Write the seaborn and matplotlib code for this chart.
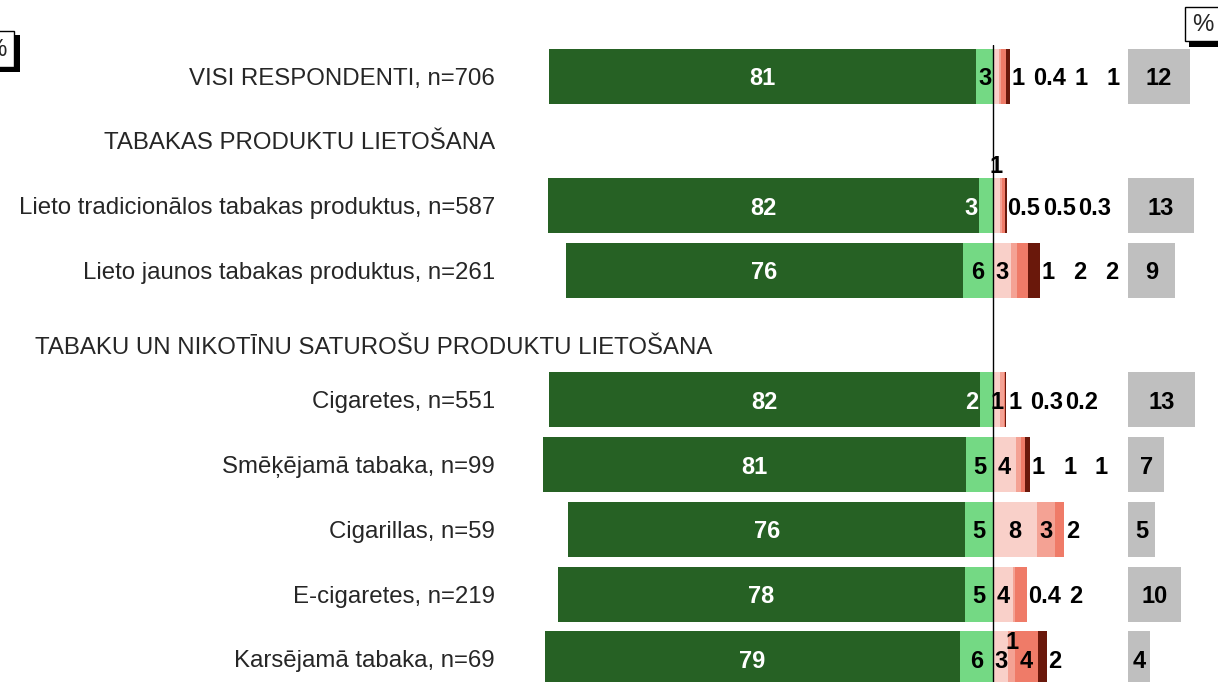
import matplotlib
matplotlib.use("Agg")
import matplotlib.pyplot as plt
import seaborn as sns
import pandas as pd
from matplotlib.patches import Rectangle

# ---------------- data ----------------
row_labels = [
    "VISI RESPONDENTI, n=706",
    "Lieto tradicionālos tabakas produktus, n=587",
    "Lieto jaunos tabakas produktus, n=261",
    "Cigaretes, n=551",
    "Smēķējamā tabaka, n=99",
    "Cigarillas, n=59",
    "E-cigaretes, n=219",
    "Karsējamā tabaka, n=69",
]
heading1 = "TABAKAS PRODUKTU LIETOŠANA"
heading2 = "TABAKU UN NIKOTĪNU SATUROŠU PRODUKTU LIETOŠANA"

dark_green = [81.3, 82.1, 75.6, 82.1, 80.6, 75.6, 77.6, 79.0]
light_green = [3.2, 2.6, 5.7, 2.4, 5.1, 5.3, 5.3, 6.3]
pink = [1.2, 1.3, 3.4, 1.4, 4.3, 8.4, 3.8, 2.9]
salmon = [0.4, 0.5, 1.1, 0.6, 1.0, 3.4, 0.4, 1.3]
red = [0.8, 0.5, 2.2, 0.3, 0.8, 1.8, 2.3, 4.4]
dark_red = [0.8, 0.3, 2.2, 0.2, 0.95, 0.0, 0.0, 1.6]
dont_know = [11.8, 12.6, 9.0, 12.8, 6.9, 5.2, 10.1, 4.1]

# ---------------- style ----------------
C_DG = "#266124"
C_LG = "#74d984"
C_PK = "#f9d0c9"
C_SA = "#f4a294"
C_RD = "#ef7b68"
C_DR = "#6a180b"
C_GR = "#bfbfbf"

W, H = 1218, 682
PX_PER_PCT = 5.25
ZERO_PX = 993
AX_L, AX_R, AX_T = 520, 1218, 45
GREY_START = (1128 - ZERO_PX) / PX_PER_PCT

sns.set_style("white")
plt.rcParams["font.family"] = ["Liberation Sans", "DejaVu Sans"]

order = [row_labels[0], heading1, row_labels[1], row_labels[2], heading2] + row_labels[3:]
data_idx = {lab: i for i, lab in enumerate(row_labels)}


def col(values):
    return [values[data_idx[o]] if o in data_idx else 0.0 for o in order]


df = pd.DataFrame({
    "label": order,
    "neg_total": [-v for v in col([a + b for a, b in zip(dark_green, light_green)])],
    "neg_lg": [-v for v in col(light_green)],
    "c4": col([a + b + c + d for a, b, c, d in zip(pink, salmon, red, dark_red)]),
    "c3": col([a + b + c for a, b, c in zip(pink, salmon, red)]),
    "c2": col([a + b for a, b in zip(pink, salmon)]),
    "c1": col(pink),
    "grey": col(dont_know),
})

fig = plt.figure(figsize=(W / 100, H / 100), dpi=100)
ax = fig.add_axes([AX_L / W, 0, (AX_R - AX_L) / W, (H - AX_T) / H])

common = dict(data=df, y="label", order=order, orient="h", saturation=1,
              width=0.85, errorbar=None, ax=ax, linewidth=0)
sns.barplot(x="neg_total", color=C_DG, **common)
sns.barplot(x="neg_lg", color=C_LG, **common)
sns.barplot(x="c4", color=C_DR, **common)
sns.barplot(x="c3", color=C_RD, **common)
sns.barplot(x="c2", color=C_SA, **common)
sns.barplot(x="c1", color=C_PK, **common)
sns.barplot(x="grey", color=C_GR, left=GREY_START, **common)

xmin = -(ZERO_PX - AX_L) / PX_PER_PCT
xmax = (AX_R - ZERO_PX) / PX_PER_PCT
ax.set_xlim(xmin, xmax)
row_px = 64.6
ax.set_ylim(9 + (H - 659) / row_px, -(76 - AX_T) / row_px)
ax.axvline(0, color="black", lw=1, zorder=5)

TICK_FS = 17.3
ax.set_xlabel("")
ax.set_ylabel("")
ax.set_xticks([])
ax.set_yticks(range(len(order)))
ax.set_yticklabels(["" if o == heading2 else o for o in order], fontsize=TICK_FS)
ax.tick_params(axis="y", length=0, pad=18)
for s in ax.spines.values():
    s.set_visible(False)

fig.text(35 / W, 1 - 346 / H, heading2, fontsize=TICK_FS, ha="left", va="center_baseline")

# ---------------- value labels ----------------
FS = 17
em_pct = FS * 100 / 72 / PX_PER_PCT
FLOW_STEP = 6.0
FLOW_GAP = 1.1


def fmt(v):
    r = round(v)
    return str(int(r)) if r >= 1 else f"{v:.1f}"


def text_w(s):
    # approximate ink width of bold digits, in percent units
    return sum(0.5 if ch.isdigit() else 0.25 for ch in s) * em_pct


label_mode = {(1, 0): "above", (3, 0): "inside", (7, 1): "high"}
lab_kw = dict(fontsize=FS, fontweight="bold", va="center_baseline", ha="center", zorder=6)

for i, lab in enumerate(row_labels):
    y = order.index(lab)
    dg, lg = dark_green[i], light_green[i]
    ax.text(-lg - dg / 2, y, fmt(dg), color="white", **lab_kw)
    if lg >= 2.8:
        ax.text(-lg / 2, y, fmt(lg), color="black", **lab_kw)
    else:
        ax.text(-lg - 0.3, y, fmt(lg), color="white",
                **{**lab_kw, "ha": "right"})

    segs = [pink[i], salmon[i], red[i], dark_red[i]]
    bar_end = sum(segs)
    prev_center, prev_w = None, 0.0
    start = 0.0
    for k, v in enumerate(segs):
        if v <= 0:
            continue
        mid = start + v / 2
        start += v
        s = fmt(v)
        mode = label_mode.get((i, k))
        if mode is None:
            mode = "inside" if v >= 2.5 else "flow"
        if mode == "inside":
            ax.text(mid, y, s, color="black", **lab_kw)
        elif mode == "above":
            ax.text(mid, y - 0.425, s, color="black",
                    **{**lab_kw, "va": "bottom"})
        elif mode == "high":
            ax.text(mid, y - 0.3, s, color="black", **lab_kw)
        else:
            w = text_w(s)
            if prev_center is None:
                c = bar_end + 0.5 + w / 2
            else:
                c = prev_center + max(FLOW_STEP, prev_w / 2 + w / 2 + FLOW_GAP)
            ax.text(c, y, s, color="black", **lab_kw)
            prev_center, prev_w = c, w

    g = dont_know[i]
    ax.text(GREY_START + g / 2, y, fmt(g), color="black", **lab_kw)


# ---------------- "%" boxes ----------------
def px_rect(x0, y0, x1, y1, **kw):
    r = Rectangle((x0 / W, 1 - y1 / H), (x1 - x0) / W, (y1 - y0) / H,
                  transform=fig.transFigure, **kw)
    fig.add_artist(r)


px_rect(1189, 41, 1222, 47, facecolor="black", edgecolor="none")
px_rect(1185, 7, 1222, 41, facecolor="white", edgecolor="black", lw=1)
fig.text(1203 / W, 1 - 25 / H, "%", fontsize=TICK_FS, ha="center", va="center")

px_rect(14, 35, 20, 72, facecolor="black", edgecolor="none")
px_rect(-20, 67, 20, 72, facecolor="black", edgecolor="none")
px_rect(-20, 31, 14, 67, facecolor="white", edgecolor="black", lw=1)
fig.text(-4 / W, 1 - 50 / H, "%", fontsize=TICK_FS, ha="center", va="center")

fig.savefig("out.png", dpi=100)
